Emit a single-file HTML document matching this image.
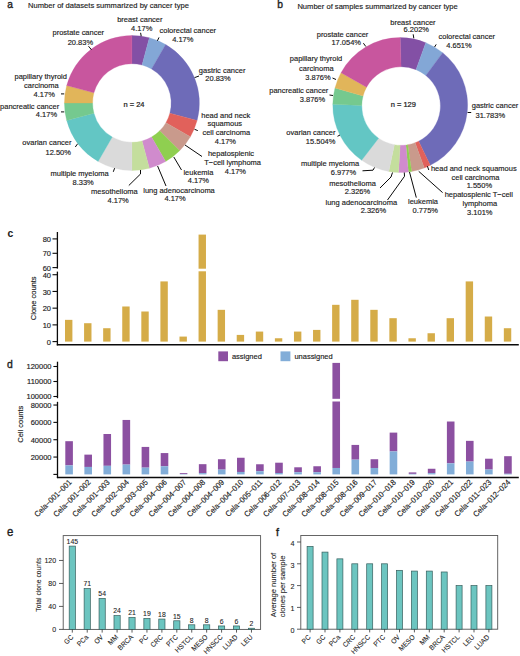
<!DOCTYPE html><html><head><meta charset="utf-8"><style>html,body{margin:0;padding:0;background:#fff;}body{width:520px;height:656px;position:relative;overflow:hidden;font-family:"Liberation Sans",sans-serif;}</style></head><body><svg width="520" height="656" viewBox="0 0 520 656" style="position:absolute;left:0;top:0" font-family='"Liberation Sans", sans-serif'>
<rect width="520" height="656" fill="#fff"/>
<text x="0" y="0" font-size="10.2" text-anchor="start" fill="#1c1c1c" stroke="#1c1c1c" stroke-width="0.35" transform="translate(7.3 7.8) scale(1 1.05)">a</text>
<text x="0" y="0" font-size="7.58" text-anchor="start" fill="#1c1c1c" stroke="#1c1c1c" stroke-width="0.15" transform="translate(28.1 7.9) scale(1 1.05)">Number of datasets summarized by cancer type</text>
<text x="0" y="0" font-size="10.3" text-anchor="start" fill="#1c1c1c" stroke="#1c1c1c" stroke-width="0.35" transform="translate(277.2 7.8) scale(1 1.05)">b</text>
<text x="0" y="0" font-size="7.58" text-anchor="start" fill="#1c1c1c" stroke="#1c1c1c" stroke-width="0.15" transform="translate(297.4 9.1) scale(1 1.05)">Number of samples summarized by cancer type</text>
<path d="M131.90,35.50 A67.5,67.5 0 0 1 149.37,37.80 L142.07,65.04 A39.3,39.3 0 0 0 131.90,63.70 Z" fill="#8350A5" stroke="#8350A5" stroke-width="0.3"/>
<path d="M149.37,37.80 A67.5,67.5 0 0 1 165.65,44.54 L151.55,68.97 A39.3,39.3 0 0 0 142.07,65.04 Z" fill="#83A7D6" stroke="#83A7D6" stroke-width="0.3"/>
<path d="M165.65,44.54 A67.5,67.5 0 0 1 197.10,120.47 L169.86,113.17 A39.3,39.3 0 0 0 151.55,68.97 Z" fill="#6E6BB8" stroke="#6E6BB8" stroke-width="0.3"/>
<path d="M197.10,120.47 A67.5,67.5 0 0 1 190.36,136.75 L165.93,122.65 A39.3,39.3 0 0 0 169.86,113.17 Z" fill="#E1615B" stroke="#E1615B" stroke-width="0.3"/>
<path d="M190.36,136.75 A67.5,67.5 0 0 1 179.63,150.73 L159.69,130.79 A39.3,39.3 0 0 0 165.93,122.65 Z" fill="#C99A8C" stroke="#C99A8C" stroke-width="0.3"/>
<path d="M179.63,150.73 A67.5,67.5 0 0 1 165.65,161.46 L151.55,137.03 A39.3,39.3 0 0 0 159.69,130.79 Z" fill="#8FCF50" stroke="#8FCF50" stroke-width="0.3"/>
<path d="M165.65,161.46 A67.5,67.5 0 0 1 149.37,168.20 L142.07,140.96 A39.3,39.3 0 0 0 151.55,137.03 Z" fill="#D08BCD" stroke="#D08BCD" stroke-width="0.3"/>
<path d="M149.37,168.20 A67.5,67.5 0 0 1 131.90,170.50 L131.90,142.30 A39.3,39.3 0 0 0 142.07,140.96 Z" fill="#C4DE9D" stroke="#C4DE9D" stroke-width="0.3"/>
<path d="M131.90,170.50 A67.5,67.5 0 0 1 98.15,161.46 L112.25,137.03 A39.3,39.3 0 0 0 131.90,142.30 Z" fill="#DADADA" stroke="#DADADA" stroke-width="0.3"/>
<path d="M98.15,161.46 A67.5,67.5 0 0 1 66.70,120.47 L93.94,113.17 A39.3,39.3 0 0 0 112.25,137.03 Z" fill="#63C6C4" stroke="#63C6C4" stroke-width="0.3"/>
<path d="M66.70,120.47 A67.5,67.5 0 0 1 64.40,103.00 L92.60,103.00 A39.3,39.3 0 0 0 93.94,113.17 Z" fill="#75C98F" stroke="#75C98F" stroke-width="0.3"/>
<path d="M64.40,103.00 A67.5,67.5 0 0 1 66.70,85.53 L93.94,92.83 A39.3,39.3 0 0 0 92.60,103.00 Z" fill="#E1B55A" stroke="#E1B55A" stroke-width="0.3"/>
<path d="M66.70,85.53 A67.5,67.5 0 0 1 131.90,35.50 L131.90,63.70 A39.3,39.3 0 0 0 93.94,92.83 Z" fill="#C8569E" stroke="#C8569E" stroke-width="0.3"/>
<text x="0" y="0" font-size="7.5" text-anchor="middle" fill="#1c1c1c" stroke="#1c1c1c" stroke-width="0.22" transform="translate(134.0 106.7) scale(1 1.05)">n = 24</text>
<text x="0" y="0" font-size="7.5" text-anchor="middle" fill="#1c1c1c" stroke="#1c1c1c" stroke-width="0.15" transform="translate(78.3 35.1) scale(1 1.05)">prostate cancer</text>
<text x="0" y="0" font-size="7.5" text-anchor="middle" fill="#1c1c1c" stroke="#1c1c1c" stroke-width="0.15" transform="translate(80.4 44.6) scale(1 1.05)">20.83%</text>
<text x="0" y="0" font-size="7.5" text-anchor="middle" fill="#1c1c1c" stroke="#1c1c1c" stroke-width="0.15" transform="translate(139.8 21.5) scale(1 1.05)">breast cancer</text>
<text x="0" y="0" font-size="7.5" text-anchor="middle" fill="#1c1c1c" stroke="#1c1c1c" stroke-width="0.15" transform="translate(141.7 30.8) scale(1 1.05)">4.17%</text>
<text x="0" y="0" font-size="7.5" text-anchor="middle" fill="#1c1c1c" stroke="#1c1c1c" stroke-width="0.15" transform="translate(187.8 32.6) scale(1 1.05)">colorectal cancer</text>
<text x="0" y="0" font-size="7.5" text-anchor="middle" fill="#1c1c1c" stroke="#1c1c1c" stroke-width="0.15" transform="translate(182.8 42.0) scale(1 1.05)">4.17%</text>
<text x="0" y="0" font-size="7.5" text-anchor="middle" fill="#1c1c1c" stroke="#1c1c1c" stroke-width="0.15" transform="translate(222.1 73.0) scale(1 1.05)">gastric cancer</text>
<text x="0" y="0" font-size="7.5" text-anchor="middle" fill="#1c1c1c" stroke="#1c1c1c" stroke-width="0.15" transform="translate(218.0 81.2) scale(1 1.05)">20.83%</text>
<text x="0" y="0" font-size="7.5" text-anchor="middle" fill="#1c1c1c" stroke="#1c1c1c" stroke-width="0.15" transform="translate(225.8 117.6) scale(1 1.05)">head and neck</text>
<text x="0" y="0" font-size="7.5" text-anchor="middle" fill="#1c1c1c" stroke="#1c1c1c" stroke-width="0.15" transform="translate(224.8 126.2) scale(1 1.05)">squamous</text>
<text x="0" y="0" font-size="7.5" text-anchor="middle" fill="#1c1c1c" stroke="#1c1c1c" stroke-width="0.15" transform="translate(226.3 135.0) scale(1 1.05)">cell carcinoma</text>
<text x="0" y="0" font-size="7.5" text-anchor="middle" fill="#1c1c1c" stroke="#1c1c1c" stroke-width="0.15" transform="translate(225.4 143.8) scale(1 1.05)">4.17%</text>
<text x="0" y="0" font-size="7.5" text-anchor="middle" fill="#1c1c1c" stroke="#1c1c1c" stroke-width="0.15" transform="translate(231.0 156.0) scale(1 1.05)">hepatosplenic</text>
<text x="0" y="0" font-size="7.5" text-anchor="middle" fill="#1c1c1c" stroke="#1c1c1c" stroke-width="0.15" transform="translate(232.6 164.9) scale(1 1.05)">T−cell lymphoma</text>
<text x="0" y="0" font-size="7.5" text-anchor="middle" fill="#1c1c1c" stroke="#1c1c1c" stroke-width="0.15" transform="translate(235.4 173.9) scale(1 1.05)">4.17%</text>
<text x="0" y="0" font-size="7.5" text-anchor="middle" fill="#1c1c1c" stroke="#1c1c1c" stroke-width="0.15" transform="translate(198.4 174.6) scale(1 1.05)">leukemia</text>
<text x="0" y="0" font-size="7.5" text-anchor="middle" fill="#1c1c1c" stroke="#1c1c1c" stroke-width="0.15" transform="translate(198.4 183.2) scale(1 1.05)">4.17%</text>
<text x="0" y="0" font-size="7.5" text-anchor="middle" fill="#1c1c1c" stroke="#1c1c1c" stroke-width="0.15" transform="translate(179.0 192.6) scale(1 1.05)">lung adenocarcinoma</text>
<text x="0" y="0" font-size="7.5" text-anchor="middle" fill="#1c1c1c" stroke="#1c1c1c" stroke-width="0.15" transform="translate(175.0 201.2) scale(1 1.05)">4.17%</text>
<text x="0" y="0" font-size="7.5" text-anchor="middle" fill="#1c1c1c" stroke="#1c1c1c" stroke-width="0.15" transform="translate(114.4 193.8) scale(1 1.05)">mesothelioma</text>
<text x="0" y="0" font-size="7.5" text-anchor="middle" fill="#1c1c1c" stroke="#1c1c1c" stroke-width="0.15" transform="translate(118.1 202.5) scale(1 1.05)">4.17%</text>
<text x="0" y="0" font-size="7.5" text-anchor="middle" fill="#1c1c1c" stroke="#1c1c1c" stroke-width="0.15" transform="translate(79.6 175.8) scale(1 1.05)">multiple myeloma</text>
<text x="0" y="0" font-size="7.5" text-anchor="middle" fill="#1c1c1c" stroke="#1c1c1c" stroke-width="0.15" transform="translate(83.1 185.0) scale(1 1.05)">8.33%</text>
<text x="0" y="0" font-size="7.5" text-anchor="middle" fill="#1c1c1c" stroke="#1c1c1c" stroke-width="0.15" transform="translate(46.9 144.6) scale(1 1.05)">ovarian cancer</text>
<text x="0" y="0" font-size="7.5" text-anchor="middle" fill="#1c1c1c" stroke="#1c1c1c" stroke-width="0.15" transform="translate(58.2 154.6) scale(1 1.05)">12.50%</text>
<text x="0" y="0" font-size="7.5" text-anchor="middle" fill="#1c1c1c" stroke="#1c1c1c" stroke-width="0.15" transform="translate(40.7 79.2) scale(1 1.05)">papillary thyroid</text>
<text x="0" y="0" font-size="7.5" text-anchor="middle" fill="#1c1c1c" stroke="#1c1c1c" stroke-width="0.15" transform="translate(41.35 88.1) scale(1 1.05)">carcinoma</text>
<text x="0" y="0" font-size="7.5" text-anchor="middle" fill="#1c1c1c" stroke="#1c1c1c" stroke-width="0.15" transform="translate(44.2 96.5) scale(1 1.05)">4.17%</text>
<text x="0" y="0" font-size="7.5" text-anchor="middle" fill="#1c1c1c" stroke="#1c1c1c" stroke-width="0.15" transform="translate(29.6 108.5) scale(1 1.05)">pancreatic cancer</text>
<text x="0" y="0" font-size="7.5" text-anchor="middle" fill="#1c1c1c" stroke="#1c1c1c" stroke-width="0.15" transform="translate(46.45 117.3) scale(1 1.05)">4.17%</text>
<path d="M88.5,46.2 L91.5,49.8" stroke="#0a0a0a" stroke-width="1.0" fill="none"/>
<path d="M140.6,32.8 L141.2,36.2" stroke="#0a0a0a" stroke-width="1.0" fill="none"/>
<path d="M157.4,40.8 L159.0,37.4" stroke="#0a0a0a" stroke-width="1.0" fill="none"/>
<path d="M194.6,77.6 L199.0,76.0" stroke="#0a0a0a" stroke-width="1.0" fill="none"/>
<path d="M194.5,129.3 L197.8,130.6" stroke="#0a0a0a" stroke-width="1.0" fill="none"/>
<path d="M185.0,145.0 L202.0,156.5" stroke="#0a0a0a" stroke-width="1.0" fill="none"/>
<path d="M173.8,157.0 L181.5,170.0" stroke="#0a0a0a" stroke-width="1.0" fill="none"/>
<path d="M157.6,166.0 L166.0,186.0" stroke="#0a0a0a" stroke-width="1.0" fill="none"/>
<path d="M140.5,170.0 L140.5,174.0 L128.8,185.5" stroke="#0a0a0a" stroke-width="1.0" fill="none"/>
<path d="M114.6,168.2 L113.3,171.8" stroke="#0a0a0a" stroke-width="1.0" fill="none"/>
<path d="M75.3,147.0 L77.6,143.8" stroke="#0a0a0a" stroke-width="1.0" fill="none"/>
<path d="M61.0,93.9 L64.2,93.9" stroke="#0a0a0a" stroke-width="1.0" fill="none"/>
<path d="M61.0,111.9 L64.2,111.9" stroke="#0a0a0a" stroke-width="1.0" fill="none"/>
<path d="M400.20,37.60 A67.4,67.4 0 0 1 425.80,42.65 L416.03,69.65 A39.3,39.3 0 0 0 401.10,66.70 Z" fill="#8350A5" stroke="#8350A5" stroke-width="0.3"/>
<path d="M425.80,42.65 A67.4,67.4 0 0 1 442.68,52.67 L425.87,75.49 A39.3,39.3 0 0 0 416.03,69.65 Z" fill="#83A7D6" stroke="#83A7D6" stroke-width="0.3"/>
<path d="M442.68,52.67 A67.4,67.4 0 0 1 430.29,165.31 L418.64,141.17 A39.3,39.3 0 0 0 425.87,75.49 Z" fill="#6E6BB8" stroke="#6E6BB8" stroke-width="0.3"/>
<path d="M430.29,165.31 A67.4,67.4 0 0 1 424.28,167.95 L415.14,142.71 A39.3,39.3 0 0 0 418.64,141.17 Z" fill="#E1615B" stroke="#E1615B" stroke-width="0.3"/>
<path d="M424.28,167.95 A67.4,67.4 0 0 1 411.63,171.42 L407.77,144.73 A39.3,39.3 0 0 0 415.14,142.71 Z" fill="#C99A8C" stroke="#C99A8C" stroke-width="0.3"/>
<path d="M411.63,171.42 A67.4,67.4 0 0 1 408.39,171.90 L405.87,145.01 A39.3,39.3 0 0 0 407.77,144.73 Z" fill="#8FCF50" stroke="#8FCF50" stroke-width="0.3"/>
<path d="M408.39,171.90 A67.4,67.4 0 0 1 398.56,172.38 L400.14,145.29 A39.3,39.3 0 0 0 405.87,145.01 Z" fill="#D08BCD" stroke="#D08BCD" stroke-width="0.3"/>
<path d="M398.56,172.38 A67.4,67.4 0 0 1 388.77,171.42 L394.43,144.73 A39.3,39.3 0 0 0 400.14,145.29 Z" fill="#C4DE9D" stroke="#C4DE9D" stroke-width="0.3"/>
<path d="M388.77,171.42 A67.4,67.4 0 0 1 361.65,160.29 L378.62,138.24 A39.3,39.3 0 0 0 394.43,144.73 Z" fill="#DADADA" stroke="#DADADA" stroke-width="0.3"/>
<path d="M361.65,160.29 A67.4,67.4 0 0 1 332.80,104.18 L361.80,105.52 A39.3,39.3 0 0 0 378.62,138.24 Z" fill="#63C6C4" stroke="#63C6C4" stroke-width="0.3"/>
<path d="M332.80,104.18 A67.4,67.4 0 0 1 334.99,87.95 L363.08,96.06 A39.3,39.3 0 0 0 361.80,105.52 Z" fill="#75C98F" stroke="#75C98F" stroke-width="0.3"/>
<path d="M334.99,87.95 A67.4,67.4 0 0 1 341.03,72.73 L366.60,87.18 A39.3,39.3 0 0 0 363.08,96.06 Z" fill="#E1B55A" stroke="#E1B55A" stroke-width="0.3"/>
<path d="M341.03,72.73 A67.4,67.4 0 0 1 400.20,37.60 L401.10,66.70 A39.3,39.3 0 0 0 366.60,87.18 Z" fill="#C8569E" stroke="#C8569E" stroke-width="0.3"/>
<text x="0" y="0" font-size="7.5" text-anchor="middle" fill="#1c1c1c" stroke="#1c1c1c" stroke-width="0.22" transform="translate(403.3 107.3) scale(1 1.05)">n = 129</text>
<text x="0" y="0" font-size="7.5" text-anchor="middle" fill="#1c1c1c" stroke="#1c1c1c" stroke-width="0.15" transform="translate(342.5 36.8) scale(1 1.05)">prostate cancer</text>
<text x="0" y="0" font-size="7.5" text-anchor="middle" fill="#1c1c1c" stroke="#1c1c1c" stroke-width="0.15" transform="translate(346.2 45.0) scale(1 1.05)">17.054%</text>
<text x="0" y="0" font-size="7.5" text-anchor="middle" fill="#1c1c1c" stroke="#1c1c1c" stroke-width="0.15" transform="translate(412.9 24.6) scale(1 1.05)">breast cancer</text>
<text x="0" y="0" font-size="7.5" text-anchor="middle" fill="#1c1c1c" stroke="#1c1c1c" stroke-width="0.15" transform="translate(416.3 32.4) scale(1 1.05)">6.202%</text>
<text x="0" y="0" font-size="7.5" text-anchor="middle" fill="#1c1c1c" stroke="#1c1c1c" stroke-width="0.15" transform="translate(466.8 39.0) scale(1 1.05)">colorectal cancer</text>
<text x="0" y="0" font-size="7.5" text-anchor="middle" fill="#1c1c1c" stroke="#1c1c1c" stroke-width="0.15" transform="translate(459.0 47.6) scale(1 1.05)">4.651%</text>
<text x="0" y="0" font-size="7.5" text-anchor="middle" fill="#1c1c1c" stroke="#1c1c1c" stroke-width="0.15" transform="translate(495.0 107.6) scale(1 1.05)">gastric cancer</text>
<text x="0" y="0" font-size="7.5" text-anchor="middle" fill="#1c1c1c" stroke="#1c1c1c" stroke-width="0.15" transform="translate(490.3 117.5) scale(1 1.05)">31.783%</text>
<text x="0" y="0" font-size="7.5" text-anchor="middle" fill="#1c1c1c" stroke="#1c1c1c" stroke-width="0.15" transform="translate(473.8 170.8) scale(1 1.05)">head and neck squamous</text>
<text x="0" y="0" font-size="7.5" text-anchor="middle" fill="#1c1c1c" stroke="#1c1c1c" stroke-width="0.15" transform="translate(475.4 179.9) scale(1 1.05)">cell carcinoma</text>
<text x="0" y="0" font-size="7.5" text-anchor="middle" fill="#1c1c1c" stroke="#1c1c1c" stroke-width="0.15" transform="translate(479.4 188.2) scale(1 1.05)">1.550%</text>
<text x="0" y="0" font-size="7.5" text-anchor="middle" fill="#1c1c1c" stroke="#1c1c1c" stroke-width="0.15" transform="translate(478.8 197.4) scale(1 1.05)">hepatosplenic T−cell</text>
<text x="0" y="0" font-size="7.5" text-anchor="middle" fill="#1c1c1c" stroke="#1c1c1c" stroke-width="0.15" transform="translate(479.8 205.9) scale(1 1.05)">lymphoma</text>
<text x="0" y="0" font-size="7.5" text-anchor="middle" fill="#1c1c1c" stroke="#1c1c1c" stroke-width="0.15" transform="translate(479.8 214.6) scale(1 1.05)">3.101%</text>
<text x="0" y="0" font-size="7.5" text-anchor="middle" fill="#1c1c1c" stroke="#1c1c1c" stroke-width="0.15" transform="translate(423.0 203.8) scale(1 1.05)">leukemia</text>
<text x="0" y="0" font-size="7.5" text-anchor="middle" fill="#1c1c1c" stroke="#1c1c1c" stroke-width="0.15" transform="translate(425.3 212.5) scale(1 1.05)">0.775%</text>
<text x="0" y="0" font-size="7.5" text-anchor="middle" fill="#1c1c1c" stroke="#1c1c1c" stroke-width="0.15" transform="translate(361.3 204.6) scale(1 1.05)">lung adenocarcinoma</text>
<text x="0" y="0" font-size="7.5" text-anchor="middle" fill="#1c1c1c" stroke="#1c1c1c" stroke-width="0.15" transform="translate(373.4 212.9) scale(1 1.05)">2.326%</text>
<text x="0" y="0" font-size="7.5" text-anchor="middle" fill="#1c1c1c" stroke="#1c1c1c" stroke-width="0.15" transform="translate(352.5 185.5) scale(1 1.05)">mesothelioma</text>
<text x="0" y="0" font-size="7.5" text-anchor="middle" fill="#1c1c1c" stroke="#1c1c1c" stroke-width="0.15" transform="translate(357.5 193.8) scale(1 1.05)">2.326%</text>
<text x="0" y="0" font-size="7.5" text-anchor="middle" fill="#1c1c1c" stroke="#1c1c1c" stroke-width="0.15" transform="translate(330.0 165.5) scale(1 1.05)">multiple myeloma</text>
<text x="0" y="0" font-size="7.5" text-anchor="middle" fill="#1c1c1c" stroke="#1c1c1c" stroke-width="0.15" transform="translate(343.5 174.5) scale(1 1.05)">6.977%</text>
<text x="0" y="0" font-size="7.5" text-anchor="middle" fill="#1c1c1c" stroke="#1c1c1c" stroke-width="0.15" transform="translate(310.9 135.0) scale(1 1.05)">ovarian cancer</text>
<text x="0" y="0" font-size="7.5" text-anchor="middle" fill="#1c1c1c" stroke="#1c1c1c" stroke-width="0.15" transform="translate(320.6 143.8) scale(1 1.05)">15.504%</text>
<text x="0" y="0" font-size="7.5" text-anchor="middle" fill="#1c1c1c" stroke="#1c1c1c" stroke-width="0.15" transform="translate(298.8 93.0) scale(1 1.05)">pancreatic cancer</text>
<text x="0" y="0" font-size="7.5" text-anchor="middle" fill="#1c1c1c" stroke="#1c1c1c" stroke-width="0.15" transform="translate(312.5 102.0) scale(1 1.05)">3.876%</text>
<text x="0" y="0" font-size="7.5" text-anchor="middle" fill="#1c1c1c" stroke="#1c1c1c" stroke-width="0.15" transform="translate(316.0 61.3) scale(1 1.05)">papillary thyroid</text>
<text x="0" y="0" font-size="7.5" text-anchor="middle" fill="#1c1c1c" stroke="#1c1c1c" stroke-width="0.15" transform="translate(316.3 70.5) scale(1 1.05)">carcinoma</text>
<text x="0" y="0" font-size="7.5" text-anchor="middle" fill="#1c1c1c" stroke="#1c1c1c" stroke-width="0.15" transform="translate(318.0 79.5) scale(1 1.05)">3.876%</text>
<path d="M363.4,43.2 L365.8,46.5" stroke="#0a0a0a" stroke-width="1.0" fill="none"/>
<path d="M413.2,34.3 L413.8,38.3" stroke="#0a0a0a" stroke-width="1.0" fill="none"/>
<path d="M434.6,47.0 L436.2,44.4" stroke="#0a0a0a" stroke-width="1.0" fill="none"/>
<path d="M467.6,112.5 L471.2,112.5" stroke="#0a0a0a" stroke-width="1.0" fill="none"/>
<path d="M427.4,166.2 L428.8,170.0" stroke="#0a0a0a" stroke-width="1.0" fill="none"/>
<path d="M418.7,171.3 L442.6,192.6" stroke="#0a0a0a" stroke-width="1.0" fill="none"/>
<path d="M409.5,172.0 L416.3,197.6" stroke="#0a0a0a" stroke-width="1.0" fill="none"/>
<path d="M404.3,172.5 L404.5,176.3 L387.5,200.0" stroke="#0a0a0a" stroke-width="1.0" fill="none"/>
<path d="M392.5,172.5 L391.0,177.0 L380.0,188.0" stroke="#0a0a0a" stroke-width="1.0" fill="none"/>
<path d="M374.5,167.5 L373.0,170.2 L362.5,170.8" stroke="#0a0a0a" stroke-width="1.0" fill="none"/>
<path d="M337.5,136.3 L340.0,135.0" stroke="#0a0a0a" stroke-width="1.0" fill="none"/>
<path d="M329.5,95.0 L333.0,95.5" stroke="#0a0a0a" stroke-width="1.0" fill="none"/>
<path d="M332.5,78.0 L336.0,79.5" stroke="#0a0a0a" stroke-width="1.0" fill="none"/>
<text x="0" y="0" font-size="10.4" text-anchor="start" font-weight="bold" fill="#1c1c1c" stroke="#1c1c1c" stroke-width="0.1" transform="translate(7.6 237.1) scale(1 1.05)">c</text>
<rect x="65.00" y="319.86" width="7.40" height="21.74" fill="#D5AC48"/>
<rect x="84.08" y="323.21" width="7.40" height="18.39" fill="#D5AC48"/>
<rect x="103.16" y="328.22" width="7.40" height="13.38" fill="#D5AC48"/>
<rect x="122.24" y="306.49" width="7.40" height="35.11" fill="#D5AC48"/>
<rect x="141.32" y="311.50" width="7.40" height="30.10" fill="#D5AC48"/>
<rect x="160.40" y="281.41" width="7.40" height="60.19" fill="#D5AC48"/>
<rect x="179.48" y="336.58" width="7.40" height="5.02" fill="#D5AC48"/>
<rect x="198.56" y="271.30" width="7.40" height="70.30" fill="#D5AC48"/>
<rect x="198.56" y="234.60" width="7.40" height="34.10" fill="#D5AC48"/>
<rect x="217.64" y="309.83" width="7.40" height="31.77" fill="#D5AC48"/>
<rect x="236.72" y="334.91" width="7.40" height="6.69" fill="#D5AC48"/>
<rect x="255.80" y="331.57" width="7.40" height="10.03" fill="#D5AC48"/>
<rect x="274.88" y="338.26" width="7.40" height="3.34" fill="#D5AC48"/>
<rect x="293.96" y="331.57" width="7.40" height="10.03" fill="#D5AC48"/>
<rect x="313.04" y="329.90" width="7.40" height="11.70" fill="#D5AC48"/>
<rect x="332.12" y="304.82" width="7.40" height="36.78" fill="#D5AC48"/>
<rect x="351.20" y="299.80" width="7.40" height="41.80" fill="#D5AC48"/>
<rect x="370.28" y="309.83" width="7.40" height="31.77" fill="#D5AC48"/>
<rect x="389.36" y="318.19" width="7.40" height="23.41" fill="#D5AC48"/>
<rect x="408.44" y="338.26" width="7.40" height="3.34" fill="#D5AC48"/>
<rect x="427.52" y="333.24" width="7.40" height="8.36" fill="#D5AC48"/>
<rect x="446.60" y="318.19" width="7.40" height="23.41" fill="#D5AC48"/>
<rect x="465.68" y="281.41" width="7.40" height="60.19" fill="#D5AC48"/>
<rect x="484.76" y="316.52" width="7.40" height="25.08" fill="#D5AC48"/>
<rect x="503.84" y="328.22" width="7.40" height="13.38" fill="#D5AC48"/>
<path d="M57.4,232.0 L57.4,268.6" stroke="#0a0a0a" stroke-width="1.3" fill="none"/>
<path d="M57.4,271.6 L57.4,345.4" stroke="#0a0a0a" stroke-width="1.3" fill="none"/>
<path d="M56.8,344.8 L518.8,344.8" stroke="#0a0a0a" stroke-width="1.5" fill="none"/>
<path d="M52.5,238.9 L57.4,238.9" stroke="#0a0a0a" stroke-width="1.1" fill="none"/>
<text x="0" y="0" font-size="7.5" text-anchor="end" fill="#1c1c1c" stroke="#1c1c1c" stroke-width="0.15" transform="translate(51.0 242.0) scale(1 1.05)">80</text>
<path d="M52.5,253.3 L57.4,253.3" stroke="#0a0a0a" stroke-width="1.1" fill="none"/>
<text x="0" y="0" font-size="7.5" text-anchor="end" fill="#1c1c1c" stroke="#1c1c1c" stroke-width="0.15" transform="translate(51.0 256.40000000000003) scale(1 1.05)">70</text>
<path d="M52.5,267.6 L57.4,267.6" stroke="#0a0a0a" stroke-width="1.1" fill="none"/>
<text x="0" y="0" font-size="7.5" text-anchor="end" fill="#1c1c1c" stroke="#1c1c1c" stroke-width="0.15" transform="translate(51.0 270.70000000000005) scale(1 1.05)">60</text>
<path d="M52.5,341.6 L57.4,341.6" stroke="#0a0a0a" stroke-width="1.1" fill="none"/>
<text x="0" y="0" font-size="7.5" text-anchor="end" fill="#1c1c1c" stroke="#1c1c1c" stroke-width="0.15" transform="translate(51.0 344.70000000000005) scale(1 1.05)">0</text>
<path d="M52.5,324.88 L57.4,324.88" stroke="#0a0a0a" stroke-width="1.1" fill="none"/>
<text x="0" y="0" font-size="7.5" text-anchor="end" fill="#1c1c1c" stroke="#1c1c1c" stroke-width="0.15" transform="translate(51.0 327.98) scale(1 1.05)">10</text>
<path d="M52.5,308.16 L57.4,308.16" stroke="#0a0a0a" stroke-width="1.1" fill="none"/>
<text x="0" y="0" font-size="7.5" text-anchor="end" fill="#1c1c1c" stroke="#1c1c1c" stroke-width="0.15" transform="translate(51.0 311.26000000000005) scale(1 1.05)">20</text>
<path d="M52.5,291.44000000000005 L57.4,291.44000000000005" stroke="#0a0a0a" stroke-width="1.1" fill="none"/>
<text x="0" y="0" font-size="7.5" text-anchor="end" fill="#1c1c1c" stroke="#1c1c1c" stroke-width="0.15" transform="translate(51.0 294.5400000000001) scale(1 1.05)">30</text>
<path d="M52.5,274.72 L57.4,274.72" stroke="#0a0a0a" stroke-width="1.1" fill="none"/>
<text x="0" y="0" font-size="7.5" text-anchor="end" fill="#1c1c1c" stroke="#1c1c1c" stroke-width="0.15" transform="translate(51.0 277.82000000000005) scale(1 1.05)">40</text>
<text x="0" y="0" font-size="7.5" text-anchor="middle" fill="#1c1c1c" stroke="#1c1c1c" stroke-width="0.15" transform="translate(35.8 298.3) rotate(-90) scale(1 1.05)">Clone counts</text>
<text x="0" y="0" font-size="10.4" text-anchor="start" fill="#1c1c1c" stroke="#1c1c1c" stroke-width="0.35" transform="translate(7.0 367.7) scale(1 1.05)">d</text>
<rect x="65.30" y="441.19" width="7.60" height="24.19" fill="#8C50A1"/>
<rect x="65.30" y="465.38" width="7.60" height="9.02" fill="#82ADD8"/>
<rect x="84.38" y="454.63" width="7.60" height="12.31" fill="#8C50A1"/>
<rect x="84.38" y="466.94" width="7.60" height="7.46" fill="#82ADD8"/>
<rect x="103.46" y="434.00" width="7.60" height="31.82" fill="#8C50A1"/>
<rect x="103.46" y="465.82" width="7.60" height="8.58" fill="#82ADD8"/>
<rect x="122.54" y="419.95" width="7.60" height="44.65" fill="#8C50A1"/>
<rect x="122.54" y="464.60" width="7.60" height="9.80" fill="#82ADD8"/>
<rect x="141.62" y="446.92" width="7.60" height="20.72" fill="#8C50A1"/>
<rect x="141.62" y="467.64" width="7.60" height="6.76" fill="#82ADD8"/>
<rect x="160.70" y="453.07" width="7.60" height="13.18" fill="#8C50A1"/>
<rect x="160.70" y="466.25" width="7.60" height="8.15" fill="#82ADD8"/>
<rect x="179.78" y="473.10" width="7.60" height="0.87" fill="#8C50A1"/>
<rect x="179.78" y="473.97" width="7.60" height="0.43" fill="#82ADD8"/>
<rect x="198.86" y="464.17" width="7.60" height="8.93" fill="#8C50A1"/>
<rect x="198.86" y="473.10" width="7.60" height="1.30" fill="#82ADD8"/>
<rect x="217.94" y="459.23" width="7.60" height="10.40" fill="#8C50A1"/>
<rect x="217.94" y="469.63" width="7.60" height="4.77" fill="#82ADD8"/>
<rect x="237.02" y="457.75" width="7.60" height="14.22" fill="#8C50A1"/>
<rect x="237.02" y="471.97" width="7.60" height="2.43" fill="#82ADD8"/>
<rect x="256.10" y="464.26" width="7.60" height="6.94" fill="#8C50A1"/>
<rect x="256.10" y="471.19" width="7.60" height="3.21" fill="#82ADD8"/>
<rect x="275.18" y="462.70" width="7.60" height="10.32" fill="#8C50A1"/>
<rect x="275.18" y="473.01" width="7.60" height="1.39" fill="#82ADD8"/>
<rect x="294.26" y="467.29" width="7.60" height="4.94" fill="#8C50A1"/>
<rect x="294.26" y="472.23" width="7.60" height="2.17" fill="#82ADD8"/>
<rect x="313.34" y="466.25" width="7.60" height="5.98" fill="#8C50A1"/>
<rect x="313.34" y="472.23" width="7.60" height="2.17" fill="#82ADD8"/>
<rect x="332.42" y="401.50" width="7.60" height="66.48" fill="#8C50A1"/>
<rect x="332.42" y="467.98" width="7.60" height="6.42" fill="#82ADD8"/>
<rect x="332.42" y="362.90" width="7.60" height="35.90" fill="#8C50A1"/>
<rect x="351.50" y="444.92" width="7.60" height="14.74" fill="#8C50A1"/>
<rect x="351.50" y="459.66" width="7.60" height="14.74" fill="#82ADD8"/>
<rect x="370.58" y="459.23" width="7.60" height="8.76" fill="#8C50A1"/>
<rect x="370.58" y="467.98" width="7.60" height="6.42" fill="#82ADD8"/>
<rect x="389.66" y="432.61" width="7.60" height="18.81" fill="#8C50A1"/>
<rect x="389.66" y="451.42" width="7.60" height="22.98" fill="#82ADD8"/>
<rect x="408.74" y="472.41" width="7.60" height="1.47" fill="#8C50A1"/>
<rect x="408.74" y="473.88" width="7.60" height="0.52" fill="#82ADD8"/>
<rect x="427.82" y="468.76" width="7.60" height="4.33" fill="#8C50A1"/>
<rect x="427.82" y="473.10" width="7.60" height="1.30" fill="#82ADD8"/>
<rect x="446.90" y="421.51" width="7.60" height="41.79" fill="#8C50A1"/>
<rect x="446.90" y="463.30" width="7.60" height="11.10" fill="#82ADD8"/>
<rect x="465.98" y="440.85" width="7.60" height="20.72" fill="#8C50A1"/>
<rect x="465.98" y="461.57" width="7.60" height="12.83" fill="#82ADD8"/>
<rect x="485.06" y="458.71" width="7.60" height="10.84" fill="#8C50A1"/>
<rect x="485.06" y="469.54" width="7.60" height="4.86" fill="#82ADD8"/>
<rect x="504.14" y="456.19" width="7.60" height="17.60" fill="#8C50A1"/>
<rect x="504.14" y="473.79" width="7.60" height="0.61" fill="#82ADD8"/>
<path d="M57.5,361.7 L57.5,398.2" stroke="#0a0a0a" stroke-width="1.3" fill="none"/>
<path d="M57.5,401.8 L57.5,478.1" stroke="#0a0a0a" stroke-width="1.3" fill="none"/>
<path d="M56.9,477.4 L518.8,477.4" stroke="#0a0a0a" stroke-width="1.5" fill="none"/>
<path d="M53.4,366.5 L57.5,366.5" stroke="#0a0a0a" stroke-width="1.1" fill="none"/>
<text x="0" y="0" font-size="7.5" text-anchor="end" fill="#1c1c1c" stroke="#1c1c1c" stroke-width="0.15" transform="translate(51.5 369.4) scale(1 1.05)">120000</text>
<path d="M53.4,381.5 L57.5,381.5" stroke="#0a0a0a" stroke-width="1.1" fill="none"/>
<text x="0" y="0" font-size="7.5" text-anchor="end" fill="#1c1c1c" stroke="#1c1c1c" stroke-width="0.15" transform="translate(51.5 384.4) scale(1 1.05)">110000</text>
<path d="M53.4,396.5 L57.5,396.5" stroke="#0a0a0a" stroke-width="1.1" fill="none"/>
<text x="0" y="0" font-size="7.5" text-anchor="end" fill="#1c1c1c" stroke="#1c1c1c" stroke-width="0.15" transform="translate(51.5 399.4) scale(1 1.05)">100000</text>
<path d="M53.4,474.4 L57.5,474.4" stroke="#0a0a0a" stroke-width="1.1" fill="none"/>
<path d="M53.4,457.06 L57.5,457.06" stroke="#0a0a0a" stroke-width="1.1" fill="none"/>
<text x="0" y="0" font-size="7.5" text-anchor="end" fill="#1c1c1c" stroke="#1c1c1c" stroke-width="0.15" transform="translate(51.5 459.96) scale(1 1.05)">20000</text>
<path d="M53.4,439.71999999999997 L57.5,439.71999999999997" stroke="#0a0a0a" stroke-width="1.1" fill="none"/>
<text x="0" y="0" font-size="7.5" text-anchor="end" fill="#1c1c1c" stroke="#1c1c1c" stroke-width="0.15" transform="translate(51.5 442.61999999999995) scale(1 1.05)">40000</text>
<path d="M53.4,422.38 L57.5,422.38" stroke="#0a0a0a" stroke-width="1.1" fill="none"/>
<text x="0" y="0" font-size="7.5" text-anchor="end" fill="#1c1c1c" stroke="#1c1c1c" stroke-width="0.15" transform="translate(51.5 425.28) scale(1 1.05)">60000</text>
<path d="M53.4,405.03999999999996 L57.5,405.03999999999996" stroke="#0a0a0a" stroke-width="1.1" fill="none"/>
<text x="0" y="0" font-size="7.5" text-anchor="end" fill="#1c1c1c" stroke="#1c1c1c" stroke-width="0.15" transform="translate(51.5 407.93999999999994) scale(1 1.05)">80000</text>
<text x="0" y="0" font-size="7.5" text-anchor="middle" fill="#1c1c1c" stroke="#1c1c1c" stroke-width="0.15" transform="translate(23.4 424.2) rotate(-90) scale(1 1.05)">Cell counts</text>
<rect x="218.30" y="351.40" width="9.70" height="9.80" fill="#8C50A1"/>
<text x="0" y="0" font-size="7.5" text-anchor="start" fill="#1c1c1c" stroke="#1c1c1c" stroke-width="0.15" transform="translate(231.9 358.7) scale(1 1.05)">assigned</text>
<rect x="280.50" y="351.40" width="9.90" height="9.80" fill="#82ADD8"/>
<text x="0" y="0" font-size="7.5" text-anchor="start" fill="#1c1c1c" stroke="#1c1c1c" stroke-width="0.15" transform="translate(294.4 358.7) scale(1 1.05)">unassigned</text>
<text x="0" y="0" font-size="7.5" text-anchor="end" fill="#1c1c1c" stroke="#1c1c1c" stroke-width="0.15" transform="translate(72.1 482.8) rotate(-45) scale(1 1.05)">Cela−001−001</text>
<text x="0" y="0" font-size="7.5" text-anchor="end" fill="#1c1c1c" stroke="#1c1c1c" stroke-width="0.15" transform="translate(91.17999999999999 482.8) rotate(-45) scale(1 1.05)">Cela−001−002</text>
<text x="0" y="0" font-size="7.5" text-anchor="end" fill="#1c1c1c" stroke="#1c1c1c" stroke-width="0.15" transform="translate(110.25999999999999 482.8) rotate(-45) scale(1 1.05)">Cela−001−003</text>
<text x="0" y="0" font-size="7.5" text-anchor="end" fill="#1c1c1c" stroke="#1c1c1c" stroke-width="0.15" transform="translate(129.33999999999997 482.8) rotate(-45) scale(1 1.05)">Cela−002−004</text>
<text x="0" y="0" font-size="7.5" text-anchor="end" fill="#1c1c1c" stroke="#1c1c1c" stroke-width="0.15" transform="translate(148.42000000000002 482.8) rotate(-45) scale(1 1.05)">Cela−003−005</text>
<text x="0" y="0" font-size="7.5" text-anchor="end" fill="#1c1c1c" stroke="#1c1c1c" stroke-width="0.15" transform="translate(167.5 482.8) rotate(-45) scale(1 1.05)">Cela−004−006</text>
<text x="0" y="0" font-size="7.5" text-anchor="end" fill="#1c1c1c" stroke="#1c1c1c" stroke-width="0.15" transform="translate(186.57999999999998 482.8) rotate(-45) scale(1 1.05)">Cela−004−007</text>
<text x="0" y="0" font-size="7.5" text-anchor="end" fill="#1c1c1c" stroke="#1c1c1c" stroke-width="0.15" transform="translate(205.66000000000003 482.8) rotate(-45) scale(1 1.05)">Cela−004−008</text>
<text x="0" y="0" font-size="7.5" text-anchor="end" fill="#1c1c1c" stroke="#1c1c1c" stroke-width="0.15" transform="translate(224.74 482.8) rotate(-45) scale(1 1.05)">Cela−004−009</text>
<text x="0" y="0" font-size="7.5" text-anchor="end" fill="#1c1c1c" stroke="#1c1c1c" stroke-width="0.15" transform="translate(243.82 482.8) rotate(-45) scale(1 1.05)">Cela−004−010</text>
<text x="0" y="0" font-size="7.5" text-anchor="end" fill="#1c1c1c" stroke="#1c1c1c" stroke-width="0.15" transform="translate(262.9 482.8) rotate(-45) scale(1 1.05)">Cela−005−011</text>
<text x="0" y="0" font-size="7.5" text-anchor="end" fill="#1c1c1c" stroke="#1c1c1c" stroke-width="0.15" transform="translate(281.98 482.8) rotate(-45) scale(1 1.05)">Cela−006−012</text>
<text x="0" y="0" font-size="7.5" text-anchor="end" fill="#1c1c1c" stroke="#1c1c1c" stroke-width="0.15" transform="translate(301.06 482.8) rotate(-45) scale(1 1.05)">Cela−007−013</text>
<text x="0" y="0" font-size="7.5" text-anchor="end" fill="#1c1c1c" stroke="#1c1c1c" stroke-width="0.15" transform="translate(320.14 482.8) rotate(-45) scale(1 1.05)">Cela−008−014</text>
<text x="0" y="0" font-size="7.5" text-anchor="end" fill="#1c1c1c" stroke="#1c1c1c" stroke-width="0.15" transform="translate(339.22 482.8) rotate(-45) scale(1 1.05)">Cela−008−015</text>
<text x="0" y="0" font-size="7.5" text-anchor="end" fill="#1c1c1c" stroke="#1c1c1c" stroke-width="0.15" transform="translate(358.3 482.8) rotate(-45) scale(1 1.05)">Cela−008−016</text>
<text x="0" y="0" font-size="7.5" text-anchor="end" fill="#1c1c1c" stroke="#1c1c1c" stroke-width="0.15" transform="translate(377.38 482.8) rotate(-45) scale(1 1.05)">Cela−009−017</text>
<text x="0" y="0" font-size="7.5" text-anchor="end" fill="#1c1c1c" stroke="#1c1c1c" stroke-width="0.15" transform="translate(396.46 482.8) rotate(-45) scale(1 1.05)">Cela−010−018</text>
<text x="0" y="0" font-size="7.5" text-anchor="end" fill="#1c1c1c" stroke="#1c1c1c" stroke-width="0.15" transform="translate(415.53999999999996 482.8) rotate(-45) scale(1 1.05)">Cela−010−019</text>
<text x="0" y="0" font-size="7.5" text-anchor="end" fill="#1c1c1c" stroke="#1c1c1c" stroke-width="0.15" transform="translate(434.62 482.8) rotate(-45) scale(1 1.05)">Cela−010−020</text>
<text x="0" y="0" font-size="7.5" text-anchor="end" fill="#1c1c1c" stroke="#1c1c1c" stroke-width="0.15" transform="translate(453.7 482.8) rotate(-45) scale(1 1.05)">Cela−010−021</text>
<text x="0" y="0" font-size="7.5" text-anchor="end" fill="#1c1c1c" stroke="#1c1c1c" stroke-width="0.15" transform="translate(472.78 482.8) rotate(-45) scale(1 1.05)">Cela−010−022</text>
<text x="0" y="0" font-size="7.5" text-anchor="end" fill="#1c1c1c" stroke="#1c1c1c" stroke-width="0.15" transform="translate(491.86 482.8) rotate(-45) scale(1 1.05)">Cela−011−023</text>
<text x="0" y="0" font-size="7.5" text-anchor="end" fill="#1c1c1c" stroke="#1c1c1c" stroke-width="0.15" transform="translate(510.94 482.8) rotate(-45) scale(1 1.05)">Cela−012−024</text>
<text x="0" y="0" font-size="11.4" text-anchor="start" fill="#1c1c1c" stroke="#1c1c1c" stroke-width="0.35" transform="translate(7.0 535.8) scale(1 1.05)">e</text>
<rect x="63.2" y="535.6" width="197.4" height="93.8" fill="none" stroke="#555" stroke-width="0.9"/>
<rect x="69.20" y="546.10" width="6.20" height="83.30" fill="#6CC5C0" stroke="#355E5C" stroke-width="0.7"/>
<text x="0" y="0" font-size="6.9" text-anchor="middle" fill="#1c1c1c" stroke="#1c1c1c" stroke-width="0.08" transform="translate(72.3 543.8974999999999) scale(1 1.05)">145</text>
<path d="M72.3,629.4 L72.3,632.6" stroke="#333" stroke-width="0.8" fill="none"/>
<text x="0" y="0" font-size="6.7" text-anchor="end" fill="#1c1c1c" stroke="#1c1c1c" stroke-width="0.08" transform="translate(73.89999999999999 637.6) rotate(-45) scale(1 1.05)">GC</text>
<rect x="84.13" y="588.61" width="6.20" height="40.79" fill="#6CC5C0" stroke="#355E5C" stroke-width="0.7"/>
<text x="0" y="0" font-size="6.9" text-anchor="middle" fill="#1c1c1c" stroke="#1c1c1c" stroke-width="0.08" transform="translate(87.22999999999999 586.4105) scale(1 1.05)">71</text>
<path d="M87.22999999999999,629.4 L87.22999999999999,632.6" stroke="#333" stroke-width="0.8" fill="none"/>
<text x="0" y="0" font-size="6.7" text-anchor="end" fill="#1c1c1c" stroke="#1c1c1c" stroke-width="0.08" transform="translate(88.82999999999998 637.6) rotate(-45) scale(1 1.05)">PCa</text>
<rect x="99.06" y="598.38" width="6.20" height="31.02" fill="#6CC5C0" stroke="#355E5C" stroke-width="0.7"/>
<text x="0" y="0" font-size="6.9" text-anchor="middle" fill="#1c1c1c" stroke="#1c1c1c" stroke-width="0.08" transform="translate(102.16 596.1769999999999) scale(1 1.05)">54</text>
<path d="M102.16,629.4 L102.16,632.6" stroke="#333" stroke-width="0.8" fill="none"/>
<text x="0" y="0" font-size="6.7" text-anchor="end" fill="#1c1c1c" stroke="#1c1c1c" stroke-width="0.08" transform="translate(103.75999999999999 637.6) rotate(-45) scale(1 1.05)">OV</text>
<rect x="113.99" y="615.61" width="6.20" height="13.79" fill="#6CC5C0" stroke="#355E5C" stroke-width="0.7"/>
<text x="0" y="0" font-size="6.9" text-anchor="middle" fill="#1c1c1c" stroke="#1c1c1c" stroke-width="0.08" transform="translate(117.09 613.4119999999999) scale(1 1.05)">24</text>
<path d="M117.09,629.4 L117.09,632.6" stroke="#333" stroke-width="0.8" fill="none"/>
<text x="0" y="0" font-size="6.7" text-anchor="end" fill="#1c1c1c" stroke="#1c1c1c" stroke-width="0.08" transform="translate(118.69 637.6) rotate(-45) scale(1 1.05)">MM</text>
<rect x="128.92" y="617.34" width="6.20" height="12.06" fill="#6CC5C0" stroke="#355E5C" stroke-width="0.7"/>
<text x="0" y="0" font-size="6.9" text-anchor="middle" fill="#1c1c1c" stroke="#1c1c1c" stroke-width="0.08" transform="translate(132.01999999999998 615.1355) scale(1 1.05)">21</text>
<path d="M132.01999999999998,629.4 L132.01999999999998,632.6" stroke="#333" stroke-width="0.8" fill="none"/>
<text x="0" y="0" font-size="6.7" text-anchor="end" fill="#1c1c1c" stroke="#1c1c1c" stroke-width="0.08" transform="translate(133.61999999999998 637.6) rotate(-45) scale(1 1.05)">BRCA</text>
<rect x="143.85" y="618.48" width="6.20" height="10.92" fill="#6CC5C0" stroke="#355E5C" stroke-width="0.7"/>
<text x="0" y="0" font-size="6.9" text-anchor="middle" fill="#1c1c1c" stroke="#1c1c1c" stroke-width="0.08" transform="translate(146.95 616.2845) scale(1 1.05)">19</text>
<path d="M146.95,629.4 L146.95,632.6" stroke="#333" stroke-width="0.8" fill="none"/>
<text x="0" y="0" font-size="6.7" text-anchor="end" fill="#1c1c1c" stroke="#1c1c1c" stroke-width="0.08" transform="translate(148.54999999999998 637.6) rotate(-45) scale(1 1.05)">PC</text>
<rect x="158.78" y="619.06" width="6.20" height="10.34" fill="#6CC5C0" stroke="#355E5C" stroke-width="0.7"/>
<text x="0" y="0" font-size="6.9" text-anchor="middle" fill="#1c1c1c" stroke="#1c1c1c" stroke-width="0.08" transform="translate(161.88 616.8589999999999) scale(1 1.05)">18</text>
<path d="M161.88,629.4 L161.88,632.6" stroke="#333" stroke-width="0.8" fill="none"/>
<text x="0" y="0" font-size="6.7" text-anchor="end" fill="#1c1c1c" stroke="#1c1c1c" stroke-width="0.08" transform="translate(163.48 637.6) rotate(-45) scale(1 1.05)">CRC</text>
<rect x="173.71" y="620.78" width="6.20" height="8.62" fill="#6CC5C0" stroke="#355E5C" stroke-width="0.7"/>
<text x="0" y="0" font-size="6.9" text-anchor="middle" fill="#1c1c1c" stroke="#1c1c1c" stroke-width="0.08" transform="translate(176.81 618.5825) scale(1 1.05)">15</text>
<path d="M176.81,629.4 L176.81,632.6" stroke="#333" stroke-width="0.8" fill="none"/>
<text x="0" y="0" font-size="6.7" text-anchor="end" fill="#1c1c1c" stroke="#1c1c1c" stroke-width="0.08" transform="translate(178.41 637.6) rotate(-45) scale(1 1.05)">PTC</text>
<rect x="188.64" y="624.80" width="6.20" height="4.60" fill="#6CC5C0" stroke="#355E5C" stroke-width="0.7"/>
<text x="0" y="0" font-size="6.9" text-anchor="middle" fill="#1c1c1c" stroke="#1c1c1c" stroke-width="0.08" transform="translate(191.74 622.6039999999999) scale(1 1.05)">8</text>
<path d="M191.74,629.4 L191.74,632.6" stroke="#333" stroke-width="0.8" fill="none"/>
<text x="0" y="0" font-size="6.7" text-anchor="end" fill="#1c1c1c" stroke="#1c1c1c" stroke-width="0.08" transform="translate(193.34 637.6) rotate(-45) scale(1 1.05)">HSTCL</text>
<rect x="203.57" y="624.80" width="6.20" height="4.60" fill="#6CC5C0" stroke="#355E5C" stroke-width="0.7"/>
<text x="0" y="0" font-size="6.9" text-anchor="middle" fill="#1c1c1c" stroke="#1c1c1c" stroke-width="0.08" transform="translate(206.67000000000002 622.6039999999999) scale(1 1.05)">8</text>
<path d="M206.67000000000002,629.4 L206.67000000000002,632.6" stroke="#333" stroke-width="0.8" fill="none"/>
<text x="0" y="0" font-size="6.7" text-anchor="end" fill="#1c1c1c" stroke="#1c1c1c" stroke-width="0.08" transform="translate(208.27 637.6) rotate(-45) scale(1 1.05)">MESO</text>
<rect x="218.50" y="625.95" width="6.20" height="3.45" fill="#6CC5C0" stroke="#355E5C" stroke-width="0.7"/>
<text x="0" y="0" font-size="6.9" text-anchor="middle" fill="#1c1c1c" stroke="#1c1c1c" stroke-width="0.08" transform="translate(221.60000000000002 623.7529999999999) scale(1 1.05)">6</text>
<path d="M221.60000000000002,629.4 L221.60000000000002,632.6" stroke="#333" stroke-width="0.8" fill="none"/>
<text x="0" y="0" font-size="6.7" text-anchor="end" fill="#1c1c1c" stroke="#1c1c1c" stroke-width="0.08" transform="translate(223.20000000000002 637.6) rotate(-45) scale(1 1.05)">HNSCC</text>
<rect x="233.43" y="625.95" width="6.20" height="3.45" fill="#6CC5C0" stroke="#355E5C" stroke-width="0.7"/>
<text x="0" y="0" font-size="6.9" text-anchor="middle" fill="#1c1c1c" stroke="#1c1c1c" stroke-width="0.08" transform="translate(236.52999999999997 623.7529999999999) scale(1 1.05)">6</text>
<path d="M236.52999999999997,629.4 L236.52999999999997,632.6" stroke="#333" stroke-width="0.8" fill="none"/>
<text x="0" y="0" font-size="6.7" text-anchor="end" fill="#1c1c1c" stroke="#1c1c1c" stroke-width="0.08" transform="translate(238.12999999999997 637.6) rotate(-45) scale(1 1.05)">LUAD</text>
<rect x="248.36" y="628.25" width="6.20" height="1.15" fill="#6CC5C0" stroke="#355E5C" stroke-width="0.7"/>
<text x="0" y="0" font-size="6.9" text-anchor="middle" fill="#1c1c1c" stroke="#1c1c1c" stroke-width="0.08" transform="translate(251.45999999999998 626.0509999999999) scale(1 1.05)">2</text>
<path d="M251.45999999999998,629.4 L251.45999999999998,632.6" stroke="#333" stroke-width="0.8" fill="none"/>
<text x="0" y="0" font-size="6.7" text-anchor="end" fill="#1c1c1c" stroke="#1c1c1c" stroke-width="0.08" transform="translate(253.05999999999997 637.6) rotate(-45) scale(1 1.05)">LEU</text>
<path d="M59.0,629.4 L63.2,629.4" stroke="#333" stroke-width="0.8" fill="none"/>
<text x="0" y="0" font-size="7.0" text-anchor="end" fill="#1c1c1c" stroke="#1c1c1c" stroke-width="0.08" transform="translate(56.1 632.3) scale(1 1.05)">0</text>
<path d="M59.0,606.42 L63.2,606.42" stroke="#333" stroke-width="0.8" fill="none"/>
<text x="0" y="0" font-size="7.0" text-anchor="end" fill="#1c1c1c" stroke="#1c1c1c" stroke-width="0.08" transform="translate(56.1 609.3199999999999) scale(1 1.05)">40</text>
<path d="M59.0,583.4399999999999 L63.2,583.4399999999999" stroke="#333" stroke-width="0.8" fill="none"/>
<text x="0" y="0" font-size="7.0" text-anchor="end" fill="#1c1c1c" stroke="#1c1c1c" stroke-width="0.08" transform="translate(56.1 586.3399999999999) scale(1 1.05)">80</text>
<path d="M59.0,560.46 L63.2,560.46" stroke="#333" stroke-width="0.8" fill="none"/>
<text x="0" y="0" font-size="7.0" text-anchor="end" fill="#1c1c1c" stroke="#1c1c1c" stroke-width="0.08" transform="translate(56.1 563.36) scale(1 1.05)">120</text>
<text x="0" y="0" font-size="6.75" text-anchor="middle" fill="#1c1c1c" stroke="#1c1c1c" stroke-width="0.08" transform="translate(41.2 584.7) rotate(-90) scale(1 1.05)">Total clone counts</text>
<text x="0" y="0" font-size="10.6" text-anchor="start" fill="#1c1c1c" stroke="#1c1c1c" stroke-width="0.35" transform="translate(275.9 535.7) scale(1 1.05)">f</text>
<rect x="300.8" y="535.5" width="196.9" height="93.7" fill="none" stroke="#555" stroke-width="0.9"/>
<rect x="307.10" y="546.36" width="6.00" height="82.84" fill="#6CC5C0" stroke="#355E5C" stroke-width="0.7"/>
<path d="M310.1,629.2 L310.1,632.4" stroke="#333" stroke-width="0.8" fill="none"/>
<text x="0" y="0" font-size="6.7" text-anchor="end" fill="#1c1c1c" stroke="#1c1c1c" stroke-width="0.08" transform="translate(311.1 637.6) rotate(-45) scale(1 1.05)">PC</text>
<rect x="322.00" y="552.10" width="6.00" height="77.10" fill="#6CC5C0" stroke="#355E5C" stroke-width="0.7"/>
<path d="M325.0,629.2 L325.0,632.4" stroke="#333" stroke-width="0.8" fill="none"/>
<text x="0" y="0" font-size="6.7" text-anchor="end" fill="#1c1c1c" stroke="#1c1c1c" stroke-width="0.08" transform="translate(326.0 637.6) rotate(-45) scale(1 1.05)">GC</text>
<rect x="336.90" y="558.85" width="6.00" height="70.35" fill="#6CC5C0" stroke="#355E5C" stroke-width="0.7"/>
<path d="M339.90000000000003,629.2 L339.90000000000003,632.4" stroke="#333" stroke-width="0.8" fill="none"/>
<text x="0" y="0" font-size="6.7" text-anchor="end" fill="#1c1c1c" stroke="#1c1c1c" stroke-width="0.08" transform="translate(340.90000000000003 637.6) rotate(-45) scale(1 1.05)">PCa</text>
<rect x="351.80" y="563.80" width="6.00" height="65.40" fill="#6CC5C0" stroke="#355E5C" stroke-width="0.7"/>
<path d="M354.8,629.2 L354.8,632.4" stroke="#333" stroke-width="0.8" fill="none"/>
<text x="0" y="0" font-size="6.7" text-anchor="end" fill="#1c1c1c" stroke="#1c1c1c" stroke-width="0.08" transform="translate(355.8 637.6) rotate(-45) scale(1 1.05)">CRC</text>
<rect x="366.70" y="563.80" width="6.00" height="65.40" fill="#6CC5C0" stroke="#355E5C" stroke-width="0.7"/>
<path d="M369.70000000000005,629.2 L369.70000000000005,632.4" stroke="#333" stroke-width="0.8" fill="none"/>
<text x="0" y="0" font-size="6.7" text-anchor="end" fill="#1c1c1c" stroke="#1c1c1c" stroke-width="0.08" transform="translate(370.70000000000005 637.6) rotate(-45) scale(1 1.05)">HNSCC</text>
<rect x="381.60" y="563.80" width="6.00" height="65.40" fill="#6CC5C0" stroke="#355E5C" stroke-width="0.7"/>
<path d="M384.6,629.2 L384.6,632.4" stroke="#333" stroke-width="0.8" fill="none"/>
<text x="0" y="0" font-size="6.7" text-anchor="end" fill="#1c1c1c" stroke="#1c1c1c" stroke-width="0.08" transform="translate(385.6 637.6) rotate(-45) scale(1 1.05)">PTC</text>
<rect x="396.50" y="570.34" width="6.00" height="58.86" fill="#6CC5C0" stroke="#355E5C" stroke-width="0.7"/>
<path d="M399.5,629.2 L399.5,632.4" stroke="#333" stroke-width="0.8" fill="none"/>
<text x="0" y="0" font-size="6.7" text-anchor="end" fill="#1c1c1c" stroke="#1c1c1c" stroke-width="0.08" transform="translate(400.5 637.6) rotate(-45) scale(1 1.05)">OV</text>
<rect x="411.40" y="571.07" width="6.00" height="58.13" fill="#6CC5C0" stroke="#355E5C" stroke-width="0.7"/>
<path d="M414.40000000000003,629.2 L414.40000000000003,632.4" stroke="#333" stroke-width="0.8" fill="none"/>
<text x="0" y="0" font-size="6.7" text-anchor="end" fill="#1c1c1c" stroke="#1c1c1c" stroke-width="0.08" transform="translate(415.40000000000003 637.6) rotate(-45) scale(1 1.05)">MESO</text>
<rect x="426.30" y="571.07" width="6.00" height="58.13" fill="#6CC5C0" stroke="#355E5C" stroke-width="0.7"/>
<path d="M429.3,629.2 L429.3,632.4" stroke="#333" stroke-width="0.8" fill="none"/>
<text x="0" y="0" font-size="6.7" text-anchor="end" fill="#1c1c1c" stroke="#1c1c1c" stroke-width="0.08" transform="translate(430.3 637.6) rotate(-45) scale(1 1.05)">MM</text>
<rect x="441.20" y="571.98" width="6.00" height="57.23" fill="#6CC5C0" stroke="#355E5C" stroke-width="0.7"/>
<path d="M444.20000000000005,629.2 L444.20000000000005,632.4" stroke="#333" stroke-width="0.8" fill="none"/>
<text x="0" y="0" font-size="6.7" text-anchor="end" fill="#1c1c1c" stroke="#1c1c1c" stroke-width="0.08" transform="translate(445.20000000000005 637.6) rotate(-45) scale(1 1.05)">BRCA</text>
<rect x="456.10" y="585.60" width="6.00" height="43.60" fill="#6CC5C0" stroke="#355E5C" stroke-width="0.7"/>
<path d="M459.1,629.2 L459.1,632.4" stroke="#333" stroke-width="0.8" fill="none"/>
<text x="0" y="0" font-size="6.7" text-anchor="end" fill="#1c1c1c" stroke="#1c1c1c" stroke-width="0.08" transform="translate(460.1 637.6) rotate(-45) scale(1 1.05)">HSTCL</text>
<rect x="471.00" y="585.60" width="6.00" height="43.60" fill="#6CC5C0" stroke="#355E5C" stroke-width="0.7"/>
<path d="M474.0,629.2 L474.0,632.4" stroke="#333" stroke-width="0.8" fill="none"/>
<text x="0" y="0" font-size="6.7" text-anchor="end" fill="#1c1c1c" stroke="#1c1c1c" stroke-width="0.08" transform="translate(475.0 637.6) rotate(-45) scale(1 1.05)">LEU</text>
<rect x="485.90" y="585.60" width="6.00" height="43.60" fill="#6CC5C0" stroke="#355E5C" stroke-width="0.7"/>
<path d="M488.90000000000003,629.2 L488.90000000000003,632.4" stroke="#333" stroke-width="0.8" fill="none"/>
<text x="0" y="0" font-size="6.7" text-anchor="end" fill="#1c1c1c" stroke="#1c1c1c" stroke-width="0.08" transform="translate(489.90000000000003 637.6) rotate(-45) scale(1 1.05)">LUAD</text>
<path d="M297.0,629.2 L300.8,629.2" stroke="#333" stroke-width="0.8" fill="none"/>
<text x="0" y="0" font-size="7.2" text-anchor="end" fill="#1c1c1c" stroke="#1c1c1c" stroke-width="0.08" transform="translate(294.4 632.9000000000001) scale(1 1.05)">0</text>
<path d="M297.0,607.4000000000001 L300.8,607.4000000000001" stroke="#333" stroke-width="0.8" fill="none"/>
<text x="0" y="0" font-size="7.2" text-anchor="end" fill="#1c1c1c" stroke="#1c1c1c" stroke-width="0.08" transform="translate(294.4 611.1000000000001) scale(1 1.05)">1</text>
<path d="M297.0,585.6 L300.8,585.6" stroke="#333" stroke-width="0.8" fill="none"/>
<text x="0" y="0" font-size="7.2" text-anchor="end" fill="#1c1c1c" stroke="#1c1c1c" stroke-width="0.08" transform="translate(294.4 589.3000000000001) scale(1 1.05)">2</text>
<path d="M297.0,563.8000000000001 L300.8,563.8000000000001" stroke="#333" stroke-width="0.8" fill="none"/>
<text x="0" y="0" font-size="7.2" text-anchor="end" fill="#1c1c1c" stroke="#1c1c1c" stroke-width="0.08" transform="translate(294.4 567.5000000000001) scale(1 1.05)">3</text>
<path d="M297.0,542.0 L300.8,542.0" stroke="#333" stroke-width="0.8" fill="none"/>
<text x="0" y="0" font-size="7.2" text-anchor="end" fill="#1c1c1c" stroke="#1c1c1c" stroke-width="0.08" transform="translate(294.4 545.7) scale(1 1.05)">4</text>
<text x="0" y="0" font-size="7.6" text-anchor="middle" fill="#1c1c1c" stroke="#1c1c1c" stroke-width="0.08" transform="translate(275.6 585.0) rotate(-90) scale(1 1.05)">Average number of</text>
<text x="0" y="0" font-size="7.6" text-anchor="middle" fill="#1c1c1c" stroke="#1c1c1c" stroke-width="0.08" transform="translate(285.2 586.4) rotate(-90) scale(1 1.05)">clones per sample</text>
</svg></body></html>
